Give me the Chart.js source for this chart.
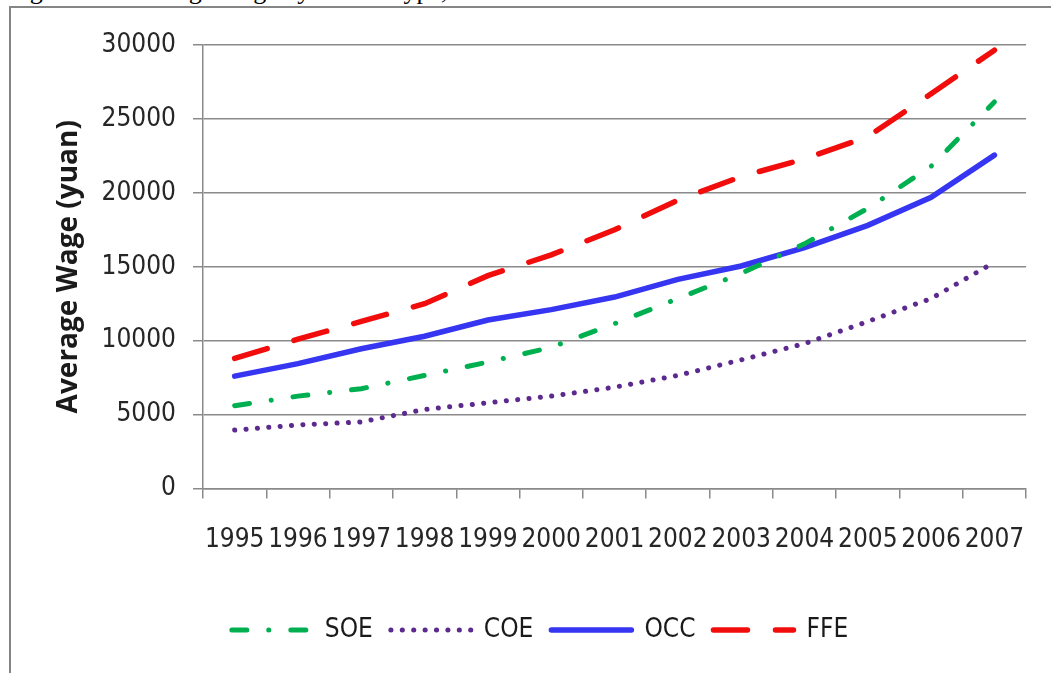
<!DOCTYPE html>
<html>
<head>
<meta charset="utf-8">
<script src="https://cdn.jsdelivr.net/npm/chart.js@4.4.1/dist/chart.umd.min.js"></script>
<style>
  html, body { margin: 0; padding: 0; background: #fff; width: 1051px; height: 673px; overflow: hidden; }
  #caption { position: absolute; left: 8px; top: -22px; font-family: 'Liberation Serif', 'Times New Roman', serif;
             font-size: 26px; color: #000; white-space: nowrap; line-height: 26px; }
  #frame { position: absolute; left: 9px; top: 6px; width: 1100px; height: 720px;
           border: 2px solid #858585; box-sizing: border-box; }
  #wrap { position: absolute; left: 0; top: 0; width: 1051px; height: 673px; }
</style>
</head>
<body>
<div id="caption">Figure 4.1: Average Wage by Sector Type, 1995-2007</div>
<div id="frame"></div>
<div id="wrap"><canvas id="c" width="1051" height="673"></canvas></div>
<script>
// Average annual wage (yuan) by enterprise type
const years = ['1995', '1996', '1997', '1998', '1999', '2000', '2001', '2002', '2003', '2004', '2005', '2006', '2007'];
const soe = [5600, 6250, 6750, 7650, 8550, 9550, 11150, 12850, 14550, 16550, 18950, 21800, 26150];
const coe = [3950, 4300, 4500, 5350, 5800, 6250, 6850, 7650, 8700, 9800, 11300, 12850, 15300];
const occ = [7600, 8450, 9450, 10300, 11400, 12100, 12950, 14150, 15050, 16300, 17800, 19700, 22550];
const ffe = [8800, 10100, 11300, 12500, 14400, 15800, 17500, 19500, 21100, 22300, 23800, 26700, 29650];
const yTicks = [0, 5000, 10000, 15000, 20000, 25000, 30000];

const TICK_FONT = "'DejaVu Sans Condensed', sans-serif";
const GRID = '#8a8a8a';

const baseLegendLabels = Chart.defaults.plugins.legend.labels.generateLabels;

new Chart(document.getElementById('c'), {
  type: 'line',
  data: {
    labels: years,
    datasets: [
      { label: 'SOE', data: soe, borderColor: '#00b050', borderWidth: 5,
        borderDash: [15, 21.9, 0.1, 22], borderCapStyle: 'round' },
      { label: 'COE', data: coe, borderColor: '#5c2a8e', borderWidth: 5,
        borderDash: [0.1, 11.3], borderCapStyle: 'round' },
      { label: 'OCC', data: occ, borderColor: '#3535f2', borderWidth: 5.5, borderCapStyle: 'round' },
      { label: 'FFE', data: ffe, borderColor: '#f20d0d', borderWidth: 5.5,
        borderDash: [34, 28], borderCapStyle: 'round' }
    ]
  },
  options: {
    responsive: false,
    animation: false,
    devicePixelRatio: 1,
    layout: { padding: { left: 50, right: 21, top: 45, bottom: 20 } },
    elements: { point: { radius: 0, hoverRadius: 0 }, line: { tension: 0, fill: false } },
    plugins: {
      tooltip: { enabled: false },
      legend: {
        position: 'bottom',
        labels: {
          usePointStyle: true,
          pointStyle: 'line',
          pointStyleWidth: 80,
          padding: 18,
          color: '#1a1a1a',
          font: { family: TICK_FONT, size: 26 },
          generateLabels(chart) {
            const items = baseLegendLabels(chart);
            items.forEach(it => {
              const ds = chart.data.datasets[it.datasetIndex];
              it.lineDash = ds.borderDash || [];
              it.lineCap = ds.borderCapStyle || 'butt';
              it.lineWidth = ds.borderWidth;
              it.strokeStyle = ds.borderColor;
            });
            return items;
          }
        }
      }
    },
    scales: {
      x: {
        offset: true,
        grid: { offset: true, drawOnChartArea: false, drawTicks: true, tickLength: 10, color: GRID, lineWidth: 1.5 },
        border: { color: GRID, width: 1.5 },
        ticks: { color: '#262626', font: { family: TICK_FONT, size: 26 }, padding: 26,
                 maxRotation: 0, autoSkip: false },
        afterFit(s) { s.height = 110.5; }
      },
      y: {
        min: 0,
        max: 30000,
        afterBuildTicks(s) { s.ticks = yTicks.map(v => ({ value: v })); },
        grid: { color: GRID, lineWidth: 1.5, tickLength: 10 },
        border: { color: GRID, width: 1.5 },
        ticks: { color: '#262626', font: { family: TICK_FONT, size: 26 }, padding: 17,
                 callback: v => String(v) },
        title: { display: true, text: 'Average Wage (yuan)', color: '#1a1a1a',
                 font: { family: "'Open Sans', sans-serif", size: 28, weight: 'bold' },
                 padding: { top: 2, bottom: 0 } },
        afterFit(s) { s.width = 153; }
      }
    }
  }
});
</script>
</body>
</html>
